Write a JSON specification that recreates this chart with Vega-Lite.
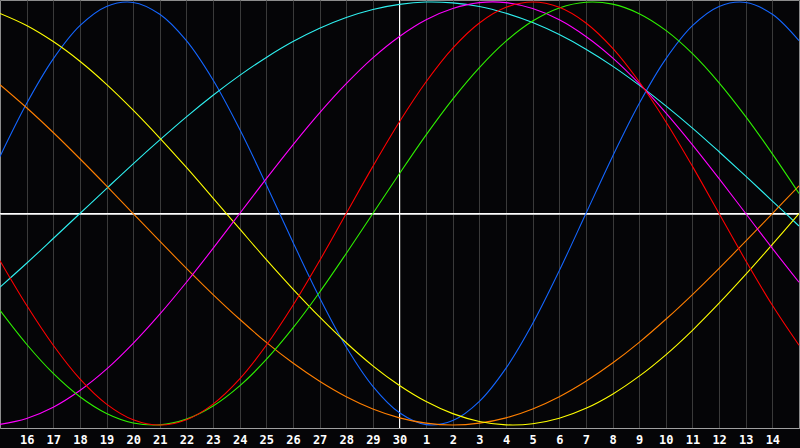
{
  "$schema": "https://vega.github.io/schema/vega-lite/v6.json",
  "width": 799,
  "height": 428,
  "autosize": {"type": "none"},
  "padding": {"left": 0, "top": 0, "right": 1, "bottom": 20},
  "background": "#050507",
  "datasets": {
    "cycles": [
      {"day":0,"cycle":"Physical","value":0.270},{"day":1,"cycle":"Physical","value":0.520},{"day":2,"cycle":"Physical","value":0.731},{"day":3,"cycle":"Physical","value":0.888},{"day":4,"cycle":"Physical","value":0.979},{"day":5,"cycle":"Physical","value":0.998},{"day":6,"cycle":"Physical","value":0.942},{"day":7,"cycle":"Physical","value":0.817},{"day":8,"cycle":"Physical","value":0.631},{"day":9,"cycle":"Physical","value":0.398},{"day":10,"cycle":"Physical","value":0.136},{"day":11,"cycle":"Physical","value":-0.136},{"day":12,"cycle":"Physical","value":-0.398},{"day":13,"cycle":"Physical","value":-0.631},{"day":14,"cycle":"Physical","value":-0.817},{"day":15,"cycle":"Physical","value":-0.942},{"day":16,"cycle":"Physical","value":-0.998},{"day":17,"cycle":"Physical","value":-0.979},{"day":18,"cycle":"Physical","value":-0.888},{"day":19,"cycle":"Physical","value":-0.731},{"day":20,"cycle":"Physical","value":-0.520},{"day":21,"cycle":"Physical","value":-0.270},{"day":22,"cycle":"Physical","value":0},{"day":23,"cycle":"Physical","value":0.270},{"day":24,"cycle":"Physical","value":0.520},{"day":25,"cycle":"Physical","value":0.731},{"day":26,"cycle":"Physical","value":0.888},{"day":27,"cycle":"Physical","value":0.979},{"day":28,"cycle":"Physical","value":0.998},{"day":29,"cycle":"Physical","value":0.942},{"day":30,"cycle":"Physical","value":0.817},

      {"day":0,"cycle":"Spiritual","value":-0.348},{"day":1,"cycle":"Spiritual","value":-0.235},{"day":2,"cycle":"Spiritual","value":-0.118},{"day":3,"cycle":"Spiritual","value":0},{"day":4,"cycle":"Spiritual","value":0.118},{"day":5,"cycle":"Spiritual","value":0.235},{"day":6,"cycle":"Spiritual","value":0.348},{"day":7,"cycle":"Spiritual","value":0.457},{"day":8,"cycle":"Spiritual","value":0.559},{"day":9,"cycle":"Spiritual","value":0.653},{"day":10,"cycle":"Spiritual","value":0.738},{"day":11,"cycle":"Spiritual","value":0.813},{"day":12,"cycle":"Spiritual","value":0.876},{"day":13,"cycle":"Spiritual","value":0.927},{"day":14,"cycle":"Spiritual","value":0.965},{"day":15,"cycle":"Spiritual","value":0.989},{"day":16,"cycle":"Spiritual","value":1.0},{"day":17,"cycle":"Spiritual","value":0.996},{"day":18,"cycle":"Spiritual","value":0.979},{"day":19,"cycle":"Spiritual","value":0.947},{"day":20,"cycle":"Spiritual","value":0.903},{"day":21,"cycle":"Spiritual","value":0.846},{"day":22,"cycle":"Spiritual","value":0.777},{"day":23,"cycle":"Spiritual","value":0.697},{"day":24,"cycle":"Spiritual","value":0.607},{"day":25,"cycle":"Spiritual","value":0.509},{"day":26,"cycle":"Spiritual","value":0.404},{"day":27,"cycle":"Spiritual","value":0.292},{"day":28,"cycle":"Spiritual","value":0.177},{"day":29,"cycle":"Spiritual","value":0.059},{"day":30,"cycle":"Spiritual","value":-0.059},

      {"day":0,"cycle":"Awareness","value":0.609},{"day":1,"cycle":"Awareness","value":0.5},{"day":2,"cycle":"Awareness","value":0.383},{"day":3,"cycle":"Awareness","value":0.259},{"day":4,"cycle":"Awareness","value":0.131},{"day":5,"cycle":"Awareness","value":0},{"day":6,"cycle":"Awareness","value":-0.131},{"day":7,"cycle":"Awareness","value":-0.259},{"day":8,"cycle":"Awareness","value":-0.383},{"day":9,"cycle":"Awareness","value":-0.5},{"day":10,"cycle":"Awareness","value":-0.609},{"day":11,"cycle":"Awareness","value":-0.707},{"day":12,"cycle":"Awareness","value":-0.793},{"day":13,"cycle":"Awareness","value":-0.866},{"day":14,"cycle":"Awareness","value":-0.924},{"day":15,"cycle":"Awareness","value":-0.966},{"day":16,"cycle":"Awareness","value":-0.991},{"day":17,"cycle":"Awareness","value":-1},{"day":18,"cycle":"Awareness","value":-0.991},{"day":19,"cycle":"Awareness","value":-0.966},{"day":20,"cycle":"Awareness","value":-0.924},{"day":21,"cycle":"Awareness","value":-0.866},{"day":22,"cycle":"Awareness","value":-0.793},{"day":23,"cycle":"Awareness","value":-0.707},{"day":24,"cycle":"Awareness","value":-0.609},{"day":25,"cycle":"Awareness","value":-0.5},{"day":26,"cycle":"Awareness","value":-0.383},{"day":27,"cycle":"Awareness","value":-0.259},{"day":28,"cycle":"Awareness","value":-0.131},{"day":29,"cycle":"Awareness","value":0},{"day":30,"cycle":"Awareness","value":0.131},

      {"day":0,"cycle":"Aesthetic","value":0.946},{"day":1,"cycle":"Aesthetic","value":0.889},{"day":2,"cycle":"Aesthetic","value":0.813},{"day":3,"cycle":"Aesthetic","value":0.720},{"day":4,"cycle":"Aesthetic","value":0.611},{"day":5,"cycle":"Aesthetic","value":0.489},{"day":6,"cycle":"Aesthetic","value":0.357},{"day":7,"cycle":"Aesthetic","value":0.218},{"day":8,"cycle":"Aesthetic","value":0.073},{"day":9,"cycle":"Aesthetic","value":-0.073},{"day":10,"cycle":"Aesthetic","value":-0.218},{"day":11,"cycle":"Aesthetic","value":-0.357},{"day":12,"cycle":"Aesthetic","value":-0.489},{"day":13,"cycle":"Aesthetic","value":-0.611},{"day":14,"cycle":"Aesthetic","value":-0.720},{"day":15,"cycle":"Aesthetic","value":-0.813},{"day":16,"cycle":"Aesthetic","value":-0.889},{"day":17,"cycle":"Aesthetic","value":-0.946},{"day":18,"cycle":"Aesthetic","value":-0.983},{"day":19,"cycle":"Aesthetic","value":-0.999},{"day":20,"cycle":"Aesthetic","value":-0.994},{"day":21,"cycle":"Aesthetic","value":-0.968},{"day":22,"cycle":"Aesthetic","value":-0.921},{"day":23,"cycle":"Aesthetic","value":-0.854},{"day":24,"cycle":"Aesthetic","value":-0.769},{"day":25,"cycle":"Aesthetic","value":-0.668},{"day":26,"cycle":"Aesthetic","value":-0.552},{"day":27,"cycle":"Aesthetic","value":-0.424},{"day":28,"cycle":"Aesthetic","value":-0.288},{"day":29,"cycle":"Aesthetic","value":-0.146},{"day":30,"cycle":"Aesthetic","value":0},

      {"day":0,"cycle":"Intuitive","value":-0.997},{"day":1,"cycle":"Intuitive","value":-0.969},{"day":2,"cycle":"Intuitive","value":-0.916},{"day":3,"cycle":"Intuitive","value":-0.837},{"day":4,"cycle":"Intuitive","value":-0.736},{"day":5,"cycle":"Intuitive","value":-0.614},{"day":6,"cycle":"Intuitive","value":-0.476},{"day":7,"cycle":"Intuitive","value":-0.325},{"day":8,"cycle":"Intuitive","value":-0.165},{"day":9,"cycle":"Intuitive","value":0},{"day":10,"cycle":"Intuitive","value":0.165},{"day":11,"cycle":"Intuitive","value":0.325},{"day":12,"cycle":"Intuitive","value":0.476},{"day":13,"cycle":"Intuitive","value":0.614},{"day":14,"cycle":"Intuitive","value":0.736},{"day":15,"cycle":"Intuitive","value":0.837},{"day":16,"cycle":"Intuitive","value":0.916},{"day":17,"cycle":"Intuitive","value":0.969},{"day":18,"cycle":"Intuitive","value":0.997},{"day":19,"cycle":"Intuitive","value":0.997},{"day":20,"cycle":"Intuitive","value":0.969},{"day":21,"cycle":"Intuitive","value":0.916},{"day":22,"cycle":"Intuitive","value":0.837},{"day":23,"cycle":"Intuitive","value":0.736},{"day":24,"cycle":"Intuitive","value":0.614},{"day":25,"cycle":"Intuitive","value":0.476},{"day":26,"cycle":"Intuitive","value":0.325},{"day":27,"cycle":"Intuitive","value":0.165},{"day":28,"cycle":"Intuitive","value":0},{"day":29,"cycle":"Intuitive","value":-0.165},{"day":30,"cycle":"Intuitive","value":-0.325},

      {"day":0,"cycle":"Intellectual","value":-0.458},{"day":1,"cycle":"Intellectual","value":-0.618},{"day":2,"cycle":"Intellectual","value":-0.756},{"day":3,"cycle":"Intellectual","value":-0.866},{"day":4,"cycle":"Intellectual","value":-0.945},{"day":5,"cycle":"Intellectual","value":-0.990},{"day":6,"cycle":"Intellectual","value":-0.999},{"day":7,"cycle":"Intellectual","value":-0.972},{"day":8,"cycle":"Intellectual","value":-0.910},{"day":9,"cycle":"Intellectual","value":-0.815},{"day":10,"cycle":"Intellectual","value":-0.690},{"day":11,"cycle":"Intellectual","value":-0.541},{"day":12,"cycle":"Intellectual","value":-0.372},{"day":13,"cycle":"Intellectual","value":-0.189},{"day":14,"cycle":"Intellectual","value":0},{"day":15,"cycle":"Intellectual","value":0.189},{"day":16,"cycle":"Intellectual","value":0.372},{"day":17,"cycle":"Intellectual","value":0.541},{"day":18,"cycle":"Intellectual","value":0.690},{"day":19,"cycle":"Intellectual","value":0.815},{"day":20,"cycle":"Intellectual","value":0.910},{"day":21,"cycle":"Intellectual","value":0.972},{"day":22,"cycle":"Intellectual","value":0.999},{"day":23,"cycle":"Intellectual","value":0.990},{"day":24,"cycle":"Intellectual","value":0.945},{"day":25,"cycle":"Intellectual","value":0.866},{"day":26,"cycle":"Intellectual","value":0.756},{"day":27,"cycle":"Intellectual","value":0.618},{"day":28,"cycle":"Intellectual","value":0.458},{"day":29,"cycle":"Intellectual","value":0.282},{"day":30,"cycle":"Intellectual","value":0.095},

      {"day":0,"cycle":"Emotional","value":-0.223},{"day":1,"cycle":"Emotional","value":-0.434},{"day":2,"cycle":"Emotional","value":-0.623},{"day":3,"cycle":"Emotional","value":-0.782},{"day":4,"cycle":"Emotional","value":-0.901},{"day":5,"cycle":"Emotional","value":-0.975},{"day":6,"cycle":"Emotional","value":-1},{"day":7,"cycle":"Emotional","value":-0.975},{"day":8,"cycle":"Emotional","value":-0.901},{"day":9,"cycle":"Emotional","value":-0.782},{"day":10,"cycle":"Emotional","value":-0.623},{"day":11,"cycle":"Emotional","value":-0.434},{"day":12,"cycle":"Emotional","value":-0.223},{"day":13,"cycle":"Emotional","value":0},{"day":14,"cycle":"Emotional","value":0.223},{"day":15,"cycle":"Emotional","value":0.434},{"day":16,"cycle":"Emotional","value":0.623},{"day":17,"cycle":"Emotional","value":0.782},{"day":18,"cycle":"Emotional","value":0.901},{"day":19,"cycle":"Emotional","value":0.975},{"day":20,"cycle":"Emotional","value":1},{"day":21,"cycle":"Emotional","value":0.975},{"day":22,"cycle":"Emotional","value":0.901},{"day":23,"cycle":"Emotional","value":0.782},{"day":24,"cycle":"Emotional","value":0.623},{"day":25,"cycle":"Emotional","value":0.434},{"day":26,"cycle":"Emotional","value":0.223},{"day":27,"cycle":"Emotional","value":0},{"day":28,"cycle":"Emotional","value":-0.223},{"day":29,"cycle":"Emotional","value":-0.434},{"day":30,"cycle":"Emotional","value":-0.623}
    ]
  },
  "data": {"name": "cycles"},
  "layer": [
    {
      "mark": {"type": "rule", "color": "#ffffff", "strokeWidth": 1},
      "encoding": {
        "y": {"datum": 0, "type": "quantitative", "scale": {"domain": [-1.014, 1.0095], "nice": false, "zero": false}, "axis": null}
      }
    },
    {
      "mark": {"type": "rule", "color": "#ffffff", "strokeWidth": 1},
      "encoding": {
        "x": {
          "datum": 15,
          "type": "quantitative",
          "scale": {"domain": [0, 30], "nice": false, "zero": false},
          "axis": {
            "title": null,
            "values": [1,2,3,4,5,6,7,8,9,10,11,12,13,14,15,16,17,18,19,20,21,22,23,24,25,26,27,28,29],
            "labelExpr": "'' + (datum.value <= 15 ? datum.value + 15 : datum.value - 15)",
            "grid": true,
            "gridColor": "#3a3a3a",
            "gridWidth": 1,
            "domainColor": "#a0a0a0",
            "ticks": false,
            "labelColor": "#ffffff",
            "labelFont": "DejaVu Sans Mono",
            "labelFontWeight": "bold",
            "labelFontSize": 12,
            "labelPadding": 6,
            "labelFlush": false,
            "labelOverlap": false,
            "labelSeparation": 0,
            "labelBound": false,
            "zindex": 0
          }
        }
      }
    },
    {
      "mark": {"type": "line", "strokeWidth": 1.1, "interpolate": "catmull-rom"},
      "encoding": {
        "x": {
          "field": "day",
          "type": "quantitative",
          "scale": {"domain": [0, 30], "nice": false, "zero": false},
          "axis": {
            "title": null,
            "values": [1,2,3,4,5,6,7,8,9,10,11,12,13,14,15,16,17,18,19,20,21,22,23,24,25,26,27,28,29],
            "labelExpr": "'' + (datum.value <= 15 ? datum.value + 15 : datum.value - 15)",
            "grid": true,
            "gridColor": "#3a3a3a",
            "gridWidth": 1,
            "domainColor": "#a0a0a0",
            "ticks": false,
            "labelColor": "#ffffff",
            "labelFont": "DejaVu Sans Mono",
            "labelFontWeight": "bold",
            "labelFontSize": 12,
            "labelPadding": 6,
            "labelFlush": false,
            "labelOverlap": false,
            "labelSeparation": 0,
            "labelBound": false,
            "zindex": 0
          }
        },
        "y": {
          "field": "value",
          "type": "quantitative",
          "scale": {"domain": [-1.014, 1.0095], "nice": false, "zero": false},
          "axis": null
        },
        "color": {
          "field": "cycle",
          "type": "nominal",
          "sort": ["Physical", "Spiritual", "Awareness", "Aesthetic", "Intuitive", "Intellectual", "Emotional"],
          "scale": {
            "domain": ["Physical", "Spiritual", "Awareness", "Aesthetic", "Intuitive", "Intellectual", "Emotional"],
            "range": ["#1466ff", "#2ff0f0", "#ff7f00", "#ffff00", "#ff00ff", "#2ef000", "#ff0000"]
          },
          "legend": null
        }
      }
    }
  ],
  "config": {
    "view": {"stroke": "#8c8c8c", "strokeWidth": 1},
    "axis": {"domainWidth": 1}
  }
}
